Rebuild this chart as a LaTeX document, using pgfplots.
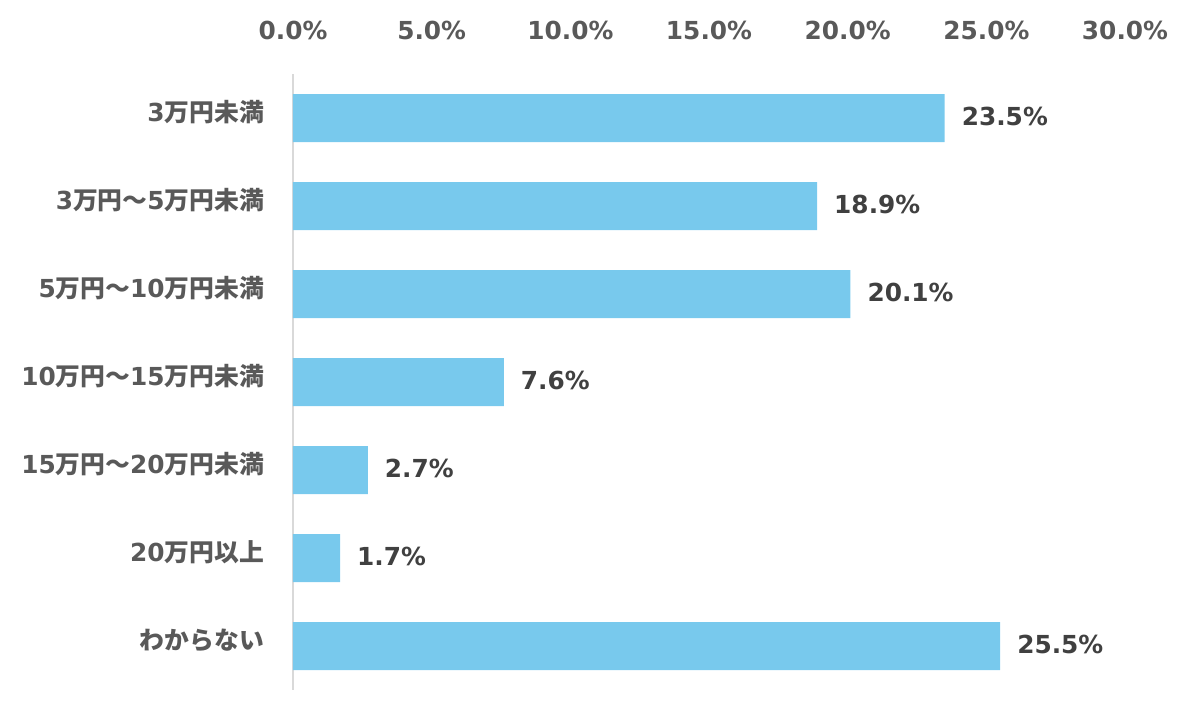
\documentclass[border=0pt]{standalone}
\usepackage{pgfplots}
\pgfplotsset{compat=1.18}
\usepackage{fontspec}
\setmainfont{DejaVu Sans}
\newfontfamily\jp{Noto Sans CJK JP}
\newcommand{\J}[1]{{\jp #1}}
\definecolor{barblue}{HTML}{78C9ED}
\definecolor{ticktext}{HTML}{595959}
\definecolor{valtext}{HTML}{404040}
\definecolor{axisgray}{HTML}{D9D9D9}
\begin{document}
\begin{tikzpicture}
\useasboundingbox (0,0) rectangle (600pt,360pt);
\begin{axis}[
  at={(146.5pt,15pt)}, anchor=south west,
  scale only axis, width=416pt, height=308pt,
  xbar, bar width=24pt,
  xmin=0, xmax=30, ymin=-0.5, ymax=6.5,
  y dir=reverse,
  axis x line*=top, axis y line*=left,
  x axis line style={draw=none},
  y axis line style={draw=axisgray, line width=1pt},
  xtick={0,5,...,30},
  ytick={0,...,6},
  major tick length=0pt,
  /pgf/number format/assume math mode=true,
  xticklabel={\pgfmathprintnumber[fixed,fixed zerofill,precision=1]{\tick}\%},
  xticklabel style={font=\fontsize{12.4}{14}\selectfont\bfseries, text=ticktext, yshift=13.5pt},
  yticklabels={
    {3\J{万円未満}},
    {3\J{万円～}5\J{万円未満}},
    {5\J{万円～}10\J{万円未満}},
    {10\J{万円～}15\J{万円未満}},
    {15\J{万円～}20\J{万円未満}},
    {20\J{万円以上}},
    {\J{わからない}}},
  yticklabel style={font=\fontsize{12.4}{14}\selectfont\bfseries, text=ticktext, xshift=-11pt, yshift=3pt},
  nodes near coords={\pgfmathprintnumber[fixed,fixed zerofill,precision=1]{\pgfplotspointmeta}\%},
  nodes near coords style={font=\fontsize{12.4}{14}\selectfont\bfseries, text=valtext, anchor=west, xshift=5pt, yshift=1pt},
]
\addplot[fill=barblue, draw=none] coordinates {(23.5,0) (18.9,1) (20.1,2) (7.6,3) (2.7,4) (1.7,5) (25.5,6)};
\end{axis}
\end{tikzpicture}
\end{document}
